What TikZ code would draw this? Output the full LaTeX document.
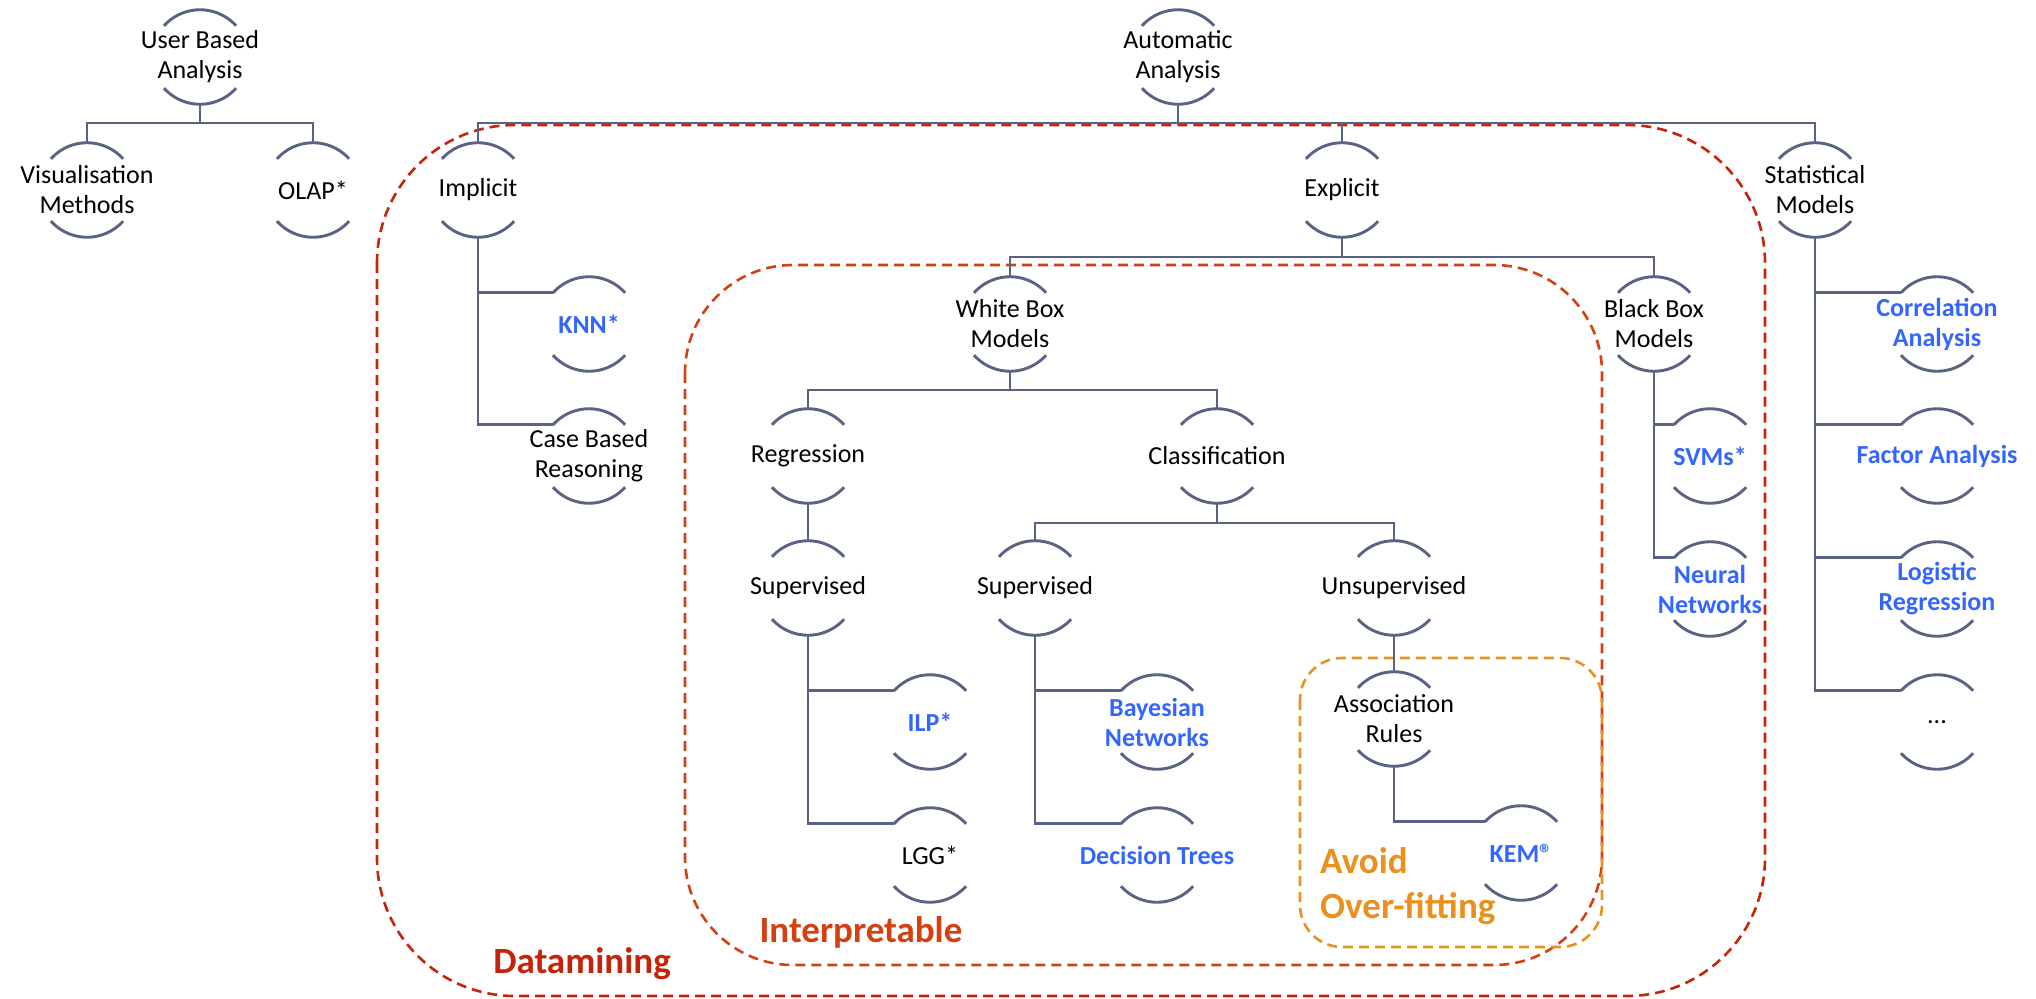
\documentclass[tikz,border=0pt]{standalone}
\usepackage{fontspec}
\setmainfont{Carlito}
\usepackage{tikz}
\definecolor{linegray}{RGB}{90,99,132}
\definecolor{leafblue}{RGB}{51,102,255}
\definecolor{dmred}{RGB}{198,36,10}
\definecolor{intred}{RGB}{214,64,16}
\definecolor{fitorange}{RGB}{234,144,30}
\tikzstyle{item}=[inner sep=0pt,minimum width=72pt,minimum height=94pt,align=center,font=\fontsize{26}{30}\selectfont]
\tikzstyle{leaf}=[item,text=leafblue,font=\fontsize{26}{30}\selectfont\bfseries]
\tikzstyle{arcline}=[draw=linegray,line width=2.9pt]
\tikzstyle{edge}=[draw=linegray,line width=2.9pt]
\tikzstyle{zone}=[line width=2.6pt,dash pattern=on 10pt off 6pt]
\tikzstyle{zonelabel}=[inner sep=0pt,font=\fontsize{37}{45}\selectfont\bfseries]

\begin{document}
\begin{tikzpicture}[x=1pt,y=1pt]
        \useasboundingbox (0,0) rectangle (2036,-998);
        % dashed groups
        \draw[zone,dmred,rounded corners=138pt] (377,-125) rectangle (1765,-996);
        \draw[zone,intred,rounded corners=108pt] (685,-265) rectangle (1602,-965);
        \draw[zone,fitorange,rounded corners=42pt] (1300,-658) rectangle (1602,-947);
        \node[zonelabel,text=dmred,anchor=base] (dmlabel) at (582,-973) {Datamining};
        \node[zonelabel,text=intred,anchor=base] (intlabel) at (861,-942) {Interpretable};
        \node[zonelabel,text=fitorange,anchor=north west,align=left] (fitlabel) at (1320,-847) {Avoid\\Over-fitting};

        % user based tree
        \node[item] (uba) at (200,-57) {User Based\\Analysis};
        \node[item] (vis) at (87,-190) {Visualisation\\Methods};
        \node[item] (olap) at (313,-190) {OLAP*};

        % automatic tree
        \node[item] (auto) at (1178,-57) {Automatic\\Analysis};
        \node[item] (impl) at (478,-190) {Implicit};
        \node[item] (expl) at (1342,-190) {Explicit};
        \node[item] (stat) at (1815,-190) {Statistical\\Models};
        \node[leaf] (knn) at (589,-324) {KNN*};
        \node[item] (cbr) at (589,-456) {Case Based\\Reasoning};
        \node[item] (wbm) at (1010,-324) {White Box\\Models};
        \node[item] (bbm) at (1654,-324) {Black Box\\Models};
        \node[leaf] (svm) at (1710,-456) {SVMs*};
        \node[leaf] (nnet) at (1710,-589) {Neural\\Networks};
        \node[item] (regr) at (808,-456) {Regression};
        \node[item] (clsf) at (1217,-456) {Classification};
        \node[item] (supr) at (808,-588) {Supervised};
        \node[item] (supc) at (1035,-588) {Supervised};
        \node[item] (unsup) at (1394,-588) {Unsupervised};
        \node[leaf] (ilp) at (930,-722) {ILP*};
        \node[item] (lgg) at (930,-855) {LGG*};
        \node[leaf] (bayes) at (1157,-722) {Bayesian\\Networks};
        \node[leaf] (dtree) at (1157,-855) {Decision Trees};
        \node[item] (assoc) at (1394,-719) {Association\\Rules};
        \node[leaf] (kem) at (1521,-853) {KEM®};
        \node[leaf] (corr) at (1937,-324) {Correlation\\Analysis};
        \node[leaf] (fact) at (1937,-456) {Factor Analysis};
        \node[leaf] (logr) at (1937,-589) {Logistic\\Regression};
        \node[item] (more) at (1937,-722) {...};

        \foreach \n in {uba,vis,olap,auto,impl,expl,stat,knn,cbr,wbm,bbm,svm,nnet,regr,clsf,supr,supc,unsup,ilp,lgg,bayes,dtree,assoc,kem,corr,fact,logr,more}{
          \draw[arcline] ([shift={(-36pt,-16pt)}]\n.north) coordinate (\n-l) arc[start angle=138,end angle=42,radius=48.5pt];
          \draw[arcline] ([shift={(-36pt,16pt)}]\n.south) arc[start angle=222,end angle=318,radius=48.5pt];
        }

        \coordinate (ubabus) at (200,-123);
        \draw[edge] (uba.south) -- (ubabus);
        \draw[edge] (vis.north) |- (ubabus) -| (olap.north);

        \coordinate (autobus) at (1178,-123);
        \draw[edge] (auto.south) -- (autobus);
        \draw[edge] (impl.north) |- (autobus) -| (stat.north);
        \draw[edge] (expl.north) -- (expl.north |- autobus);

        \coordinate (explbus) at (1342,-257);
        \draw[edge] (expl.south) -- (explbus);
        \draw[edge] (wbm.north) |- (explbus) -| (bbm.north);

        \coordinate (wbmbus) at (1010,-390);
        \draw[edge] (wbm.south) -- (wbmbus);
        \draw[edge] (regr.north) |- (wbmbus) -| (clsf.north);

        \coordinate (clsfbus) at (1217,-523);
        \draw[edge] (clsf.south) -- (clsfbus);
        \draw[edge] (supc.north) |- (clsfbus) -| (unsup.north);

        \draw[edge] (regr.south) -- (supr.north);
        \draw[edge] (unsup.south) -- (assoc.north);

        % side lists
        \draw[edge] (impl.south) |- (knn-l);
        \draw[edge] (impl.south) |- (cbr-l);
        \draw[edge] (bbm.south) |- (svm-l);
        \draw[edge] (bbm.south) |- (nnet-l);
        \draw[edge] (supr.south) |- (ilp-l);
        \draw[edge] (supr.south) |- (lgg-l);
        \draw[edge] (supc.south) |- (bayes-l);
        \draw[edge] (supc.south) |- (dtree-l);
        \draw[edge] (assoc.south) |- (kem-l);
        \draw[edge] (stat.south) |- (corr-l);
        \draw[edge] (stat.south) |- (fact-l);
        \draw[edge] (stat.south) |- (logr-l);
        \draw[edge] (stat.south) |- (more-l);
      \end{tikzpicture}
\end{document}
